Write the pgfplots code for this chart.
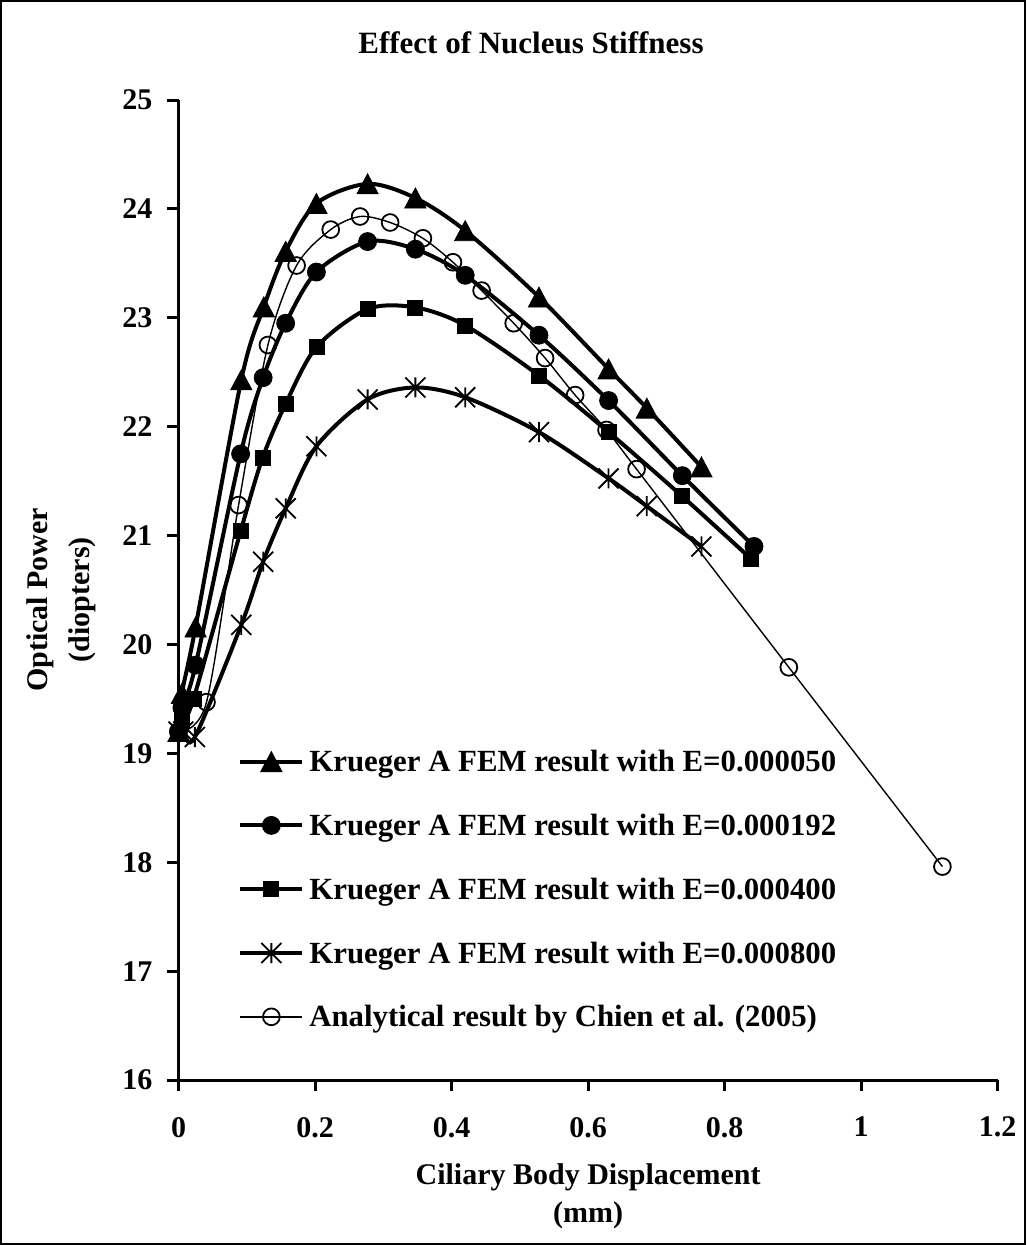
\documentclass[border=0pt]{standalone}
\usepackage{fontspec}
\setmainfont{Liberation Serif}
\usepackage{pgfplots}
\pgfplotsset{compat=1.18}

% Excel style markers: triangle centred on its box, and a star made of X plus |
\pgfdeclareplotmark{tri}{%
  \pgfpathmoveto{\pgfqpoint{0pt}{0.8\pgfplotmarksize}}%
  \pgfpathlineto{\pgfqpoint{0.85\pgfplotmarksize}{-0.8\pgfplotmarksize}}%
  \pgfpathlineto{\pgfqpoint{-0.85\pgfplotmarksize}{-0.8\pgfplotmarksize}}%
  \pgfpathclose\pgfusepathqfillstroke}
\pgfdeclareplotmark{xstar}{%
  \pgfpathmoveto{\pgfqpoint{0pt}{\pgfplotmarksize}}%
  \pgfpathlineto{\pgfqpoint{0pt}{-\pgfplotmarksize}}%
  \pgfpathmoveto{\pgfqpoint{-\pgfplotmarksize}{\pgfplotmarksize}}%
  \pgfpathlineto{\pgfqpoint{\pgfplotmarksize}{-\pgfplotmarksize}}%
  \pgfpathmoveto{\pgfqpoint{-\pgfplotmarksize}{-\pgfplotmarksize}}%
  \pgfpathlineto{\pgfqpoint{\pgfplotmarksize}{\pgfplotmarksize}}%
  \pgfusepathqstroke}

\pgfplotsset{
  fem/.style={black, line width=2pt, smooth},
}

\begin{document}
\begin{tikzpicture}
\begin{axis}[
  scale only axis, width=409.6pt, height=490pt,
  xmin=0, xmax=1.2, ymin=16, ymax=25,
  axis x line=bottom, axis y line=left,
  axis line style={-, line width=1.5pt},
  xtick={0,0.2,0.4,0.6,0.8,1,1.2},
  ytick={16,17,18,19,20,21,22,23,24,25},
  tick align=outside, major tick length=5.5pt,
  every tick/.style={black, line width=1.5pt},
  /pgf/number format/assume math mode=true,
  tick label style={font=\fontsize{15}{18}\selectfont\bfseries},
  xticklabel style={yshift=-9.5pt},
  yticklabel style={xshift=-4pt},
  title={Effect of Nucleus Stiffness},
  title style={at={(axis description cs:0.4303,1.046)}, anchor=center,
               font=\fontsize{15.5}{18}\selectfont\bfseries},
  xlabel={Ciliary Body Displacement\\(mm)},
  xlabel style={at={(axis description cs:0.5,-0.1190)}, anchor=center,
                align=center, font=\fontsize{15}{19}\selectfont\bfseries},
  ylabel={Optical Power\\(diopters)},
  ylabel style={at={(axis description cs:-0.1434,0.49)}, anchor=center,
                align=center, font=\fontsize{15}{21}\selectfont\bfseries},
  legend cell align=left,
  legend style={draw=none, fill=none, inner sep=0pt,
                at={(axis description cs:0.0726,0.3355)}, anchor=north west,
                row sep=21.9pt,
                font=\fontsize{15.4}{18}\selectfont\bfseries,
                nodes={inner sep=0pt, text height=10pt, text depth=0pt},
                /tikz/every odd column/.append style={column sep=2.5pt}},
  legend image code/.code={\draw[mark repeat=2,mark phase=2,#1]
    plot coordinates {(0pt,0pt) (15.5pt,0pt) (31pt,0pt)};},
]
\addplot[fem, mark=tri, mark size=6.25pt, mark options={solid, line width=0.4pt, fill=black}] coordinates {
  (0,19.2) (0.005,19.55) (0.025,20.16) (0.092,22.43) (0.125,23.10) (0.157,23.61)
  (0.202,24.05) (0.277,24.23) (0.347,24.10) (0.420,23.80) (0.528,23.19)
  (0.630,22.53) (0.686,22.17) (0.766,21.63)};
\addplot[fem, mark=*, mark size=4.5pt, mark options={solid, line width=0.4pt, fill=black}] coordinates {
  (0,19.2) (0.005,19.42) (0.025,19.81) (0.091,21.75) (0.124,22.45) (0.157,22.95)
  (0.202,23.42) (0.277,23.70) (0.347,23.63) (0.420,23.39) (0.528,22.84)
  (0.630,22.24) (0.738,21.55) (0.843,20.90)};
\addplot[fem, mark=square*, mark size=3.75pt, mark options={solid, line width=0.4pt, fill=black}] coordinates {
  (0,19.2) (0.005,19.3) (0.022,19.5) (0.091,21.04) (0.123,21.71) (0.157,22.21)
  (0.202,22.73) (0.277,23.08) (0.347,23.095) (0.420,22.93) (0.528,22.47)
  (0.630,21.95) (0.738,21.36) (0.838,20.79)};
\addplot[fem, mark=xstar, mark size=5pt, mark options={solid, line width=0.9pt}] coordinates {
  (0,19.2) (0.007,19.2) (0.024,19.15) (0.092,20.18) (0.124,20.76) (0.157,21.25)
  (0.202,21.82) (0.277,22.25) (0.347,22.36) (0.420,22.27) (0.528,21.95)
  (0.630,21.525) (0.686,21.27) (0.766,20.90)};
\addplot[black, line width=0.7pt, smooth, mark=o, mark size=4.2pt, mark options={solid, line width=0.9pt}] coordinates {
  (0,19.2) (0.041,19.47) (0.088,21.28) (0.131,22.75) (0.173,23.48) (0.223,23.81)
  (0.266,23.93) (0.310,23.875) (0.358,23.73) (0.402,23.51) (0.444,23.25)
  (0.491,22.95) (0.537,22.63) (0.581,22.29) (0.627,21.97) (0.671,21.61)
  (0.894,19.79) (1.119,17.96)};
\legend{Krueger A FEM result with E=0.000050,
        Krueger A FEM result with E=0.000192,
        Krueger A FEM result with E=0.000400,
        Krueger A FEM result with E=0.000800,
        Analytical result by Chien et al. (2005)}
\end{axis}
\pgfresetboundingbox
\draw[line width=1pt] (-88.75pt,-82pt) rectangle (423.25pt,539.5pt);
\end{tikzpicture}
\end{document}
